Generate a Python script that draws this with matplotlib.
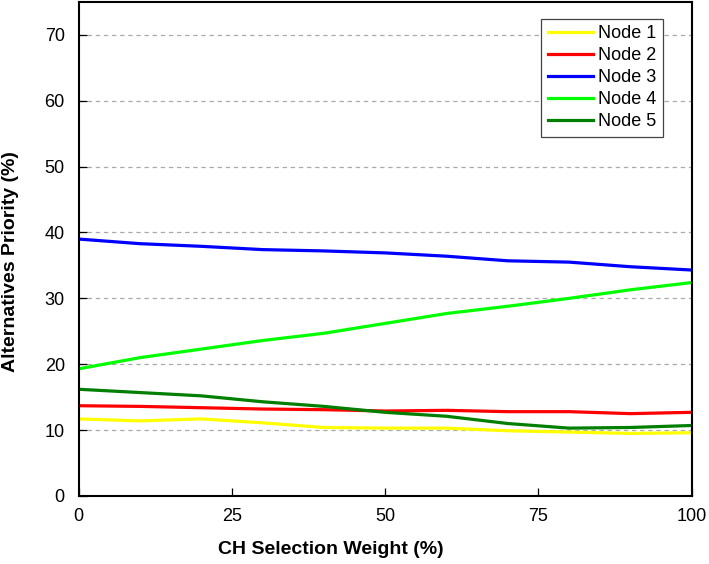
import matplotlib
matplotlib.use("Agg")
import matplotlib.pyplot as plt

# Chart data
weights = [0, 10, 20, 30, 40, 50, 60, 70, 80, 90, 100]
node1 = [11.7, 11.4, 11.7, 11.1, 10.4, 10.3, 10.3, 9.9, 9.7, 9.5, 9.6]
node2 = [13.7, 13.6, 13.4, 13.2, 13.1, 12.9, 13.0, 12.8, 12.8, 12.5, 12.7]
node3 = [39.0, 38.3, 37.9, 37.4, 37.2, 36.9, 36.4, 35.7, 35.5, 34.8, 34.3]
node4 = [19.3, 21.0, 22.3, 23.6, 24.7, 26.2, 27.7, 28.8, 30.0, 31.3, 32.4]
node5 = [16.2, 15.7, 15.2, 14.3, 13.6, 12.7, 12.1, 11.0, 10.3, 10.4, 10.7]
labels = ["Node 1", "Node 2", "Node 3", "Node 4", "Node 5"]
colors = ["#ffff00", "#ff0000", "#0000ff", "#00ff00", "#007f00"]
xticks = [0, 25, 50, 75, 100]
yticks = [0, 10, 20, 30, 40, 50, 60, 70]

plt.rcParams["font.family"] = ["Liberation Sans", "DejaVu Sans"]

fig = plt.figure(figsize=(7.09, 5.64), dpi=100)
ax = fig.add_axes([0.111, 0.1206, 0.8646, 0.876])

for y, lab, c in zip([node1, node2, node3, node4, node5], labels, colors):
    ax.plot(weights, y, color=c, lw=2.3, label=lab)

ax.set_xlim(0, 100)
ax.set_ylim(0, 75)
ax.set_xticks(xticks)
ax.set_yticks(yticks)
ax.tick_params(direction="in", length=6, width=0.9, labelsize=13)
ax.tick_params(axis="x", pad=9)
ax.tick_params(axis="y", pad=10)

# dashed horizontal guides
for y in yticks[1:]:
    ax.axhline(y, color="#aaaaaa", lw=0.9, ls=(0, (3.5, 3)), zorder=0)

for s in ax.spines.values():
    s.set_linewidth(1.5)

ax.set_xlabel("CH Selection Weight (%)", fontsize=14, fontweight="bold", va="center")
ax.xaxis.set_label_coords(0.412, -0.109)
ax.set_ylabel("Alternatives Priority (%)", fontsize=14, fontweight="bold", va="center")
ax.yaxis.set_label_coords(-0.112, 0.474)

leg = ax.legend(loc="upper right", bbox_to_anchor=(0.953, 0.966), borderaxespad=0,
                fontsize=13, fancybox=False, framealpha=1, edgecolor="#444444",
                handlelength=2.5, handletextpad=0.3, labelspacing=0.28,
                borderpad=0.35)
leg.get_frame().set_linewidth(0.9)

fig.savefig("out.png", dpi=100)
